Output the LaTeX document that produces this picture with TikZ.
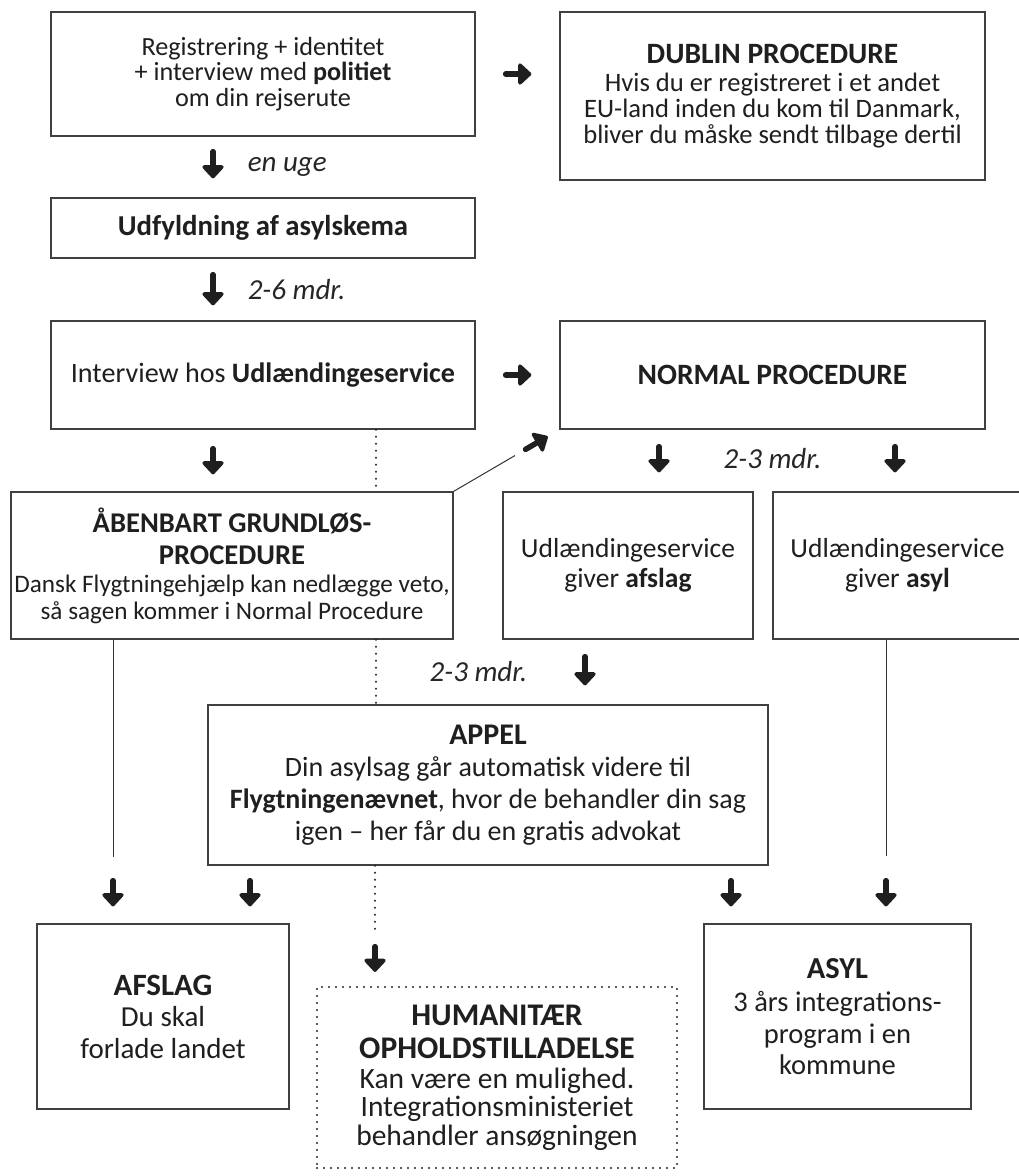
\documentclass[tikz,border=0pt]{standalone}
\usepackage{fontspec}
\setmainfont{Carlito}
\usetikzlibrary{arrows.meta,positioning,calc}
\lineskiplimit=-100pt
\newcommand{\titel}[2]{{\fontsize{#1}{#1}\selectfont\bfseries #2}}

\begin{document}
\begin{tikzpicture}[x=1pt, y=-1pt,
  box/.style={draw=black!75, line width=1.3pt, fill=white, align=center, inner sep=0pt, text=black!88},
  dotbox/.style={box, draw=black!85, line width=2.3pt, dash pattern=on 0pt off 7pt, line cap=round},
  pil/.style={-{Triangle[round, length=14pt, width=25pt]}, line width=5.5pt, line cap=round, color=black!88},
  tynd/.style={line width=1pt, color=black!80},
  prik/.style={line width=2.3pt, dash pattern=on 0pt off 7pt, line cap=round, color=black!85},
  tid/.style={font=\fontsize{29}{29}\selectfont\itshape, text=black!85, inner sep=0pt},
]
\useasboundingbox (0,0) rectangle (1018,1176);

% ─── Top row: registration and Dublin ───
\node[box, font=\fontsize{26.2}{25.5}\selectfont, minimum width=424pt, minimum height=124pt] (reg) at (263,74) {Registrering + identitet\\+ interview med \textbf{politiet}\\om din rejserute};
\node[box, font=\fontsize{26.6}{26}\selectfont, minimum width=425pt, minimum height=168pt] (dublin) at (772.5,96) {\titel{29.5}{DUBLIN PROCEDURE}\\[2pt]Hvis du er registreret i et andet\\EU-land inden du kom til Danmark,\\bliver du måske sendt tilbage dertil};
\draw[pil, shorten <=30pt, shorten >=28pt] (reg.east) -- (reg.east -| dublin.west);

% ─── Asylum form and interview ───
\node[box, font=\fontsize{28.8}{28.8}\selectfont, minimum width=424pt, minimum height=60pt] (udf) at (263,228) {\textbf{Udfyldning af asylskema}};
\node[box, font=\fontsize{28.1}{28.1}\selectfont, minimum width=424pt, minimum height=108pt] (intv) at (263,375) {Interview hos \textbf{Udlændingeservice}};
\node[box, minimum width=425pt, minimum height=108pt] (normal) at (772.5,375) {\titel{29.5}{NORMAL PROCEDURE}};
\draw[pil, shorten <=15pt, shorten >=19pt] ([xshift=-50pt]reg.south) -- ([xshift=-50pt]reg.south |- udf.north) node[midway, right=32pt, tid] {en uge};
\draw[pil, shorten <=16pt, shorten >=15pt] ([xshift=-50pt]udf.south) -- ([xshift=-50pt]udf.south |- intv.north) node[midway, right=32pt, tid] {2-6 mdr.};
\draw[pil, shorten <=30pt, shorten >=28pt] (intv.east) -- (intv.east -| normal.west);

% ─── Decisions ───
\node[box, font=\fontsize{25.2}{27}\selectfont, minimum width=442pt, minimum height=147pt] (aaben) at (232,565.5) {\titel{28.6}{ÅBENBART GRUNDLØS-}\\[5pt]\titel{28.6}{PROCEDURE}\\[1pt]Dansk Flygtningehjælp kan nedlægge veto,\\så sagen kommer i Normal Procedure};
\node[box, font=\fontsize{27.5}{30}\selectfont, minimum width=250pt, minimum height=147pt] (afsl) at (628,565.5) {Udlændingeservice\\giver \textbf{afslag}};
\node[box, font=\fontsize{27.5}{30}\selectfont, minimum width=249pt, minimum height=147pt] (asylgiv) at (897.5,565.5) {Udlændingeservice\\giver \textbf{asyl}};
\draw[pil, shorten <=19pt, shorten >=17pt] ([xshift=-50pt]intv.south) -- ([xshift=-50pt]intv.south |- aaben.north);
\draw[tynd] (aaben.north east) -- ($(aaben.north east)!0.58!(normal.south west)$);
\draw[pil] ($(aaben.north east)!0.68!(normal.south west)$) -- ($(aaben.north east)!0.89!(normal.south west)$);
\draw[pil, shorten <=17pt, shorten >=19pt] ([xshift=-113.5pt]normal.south) -- ([xshift=-113.5pt]normal.south |- afsl.north);
\draw[pil, shorten <=17pt, shorten >=19pt] ([xshift=122.5pt]normal.south) -- ([xshift=122.5pt]normal.south |- asylgiv.north);
\node[tid] (tid3) at ([yshift=-29pt]normal.south) {2-3 mdr.};
\draw[prik] ([xshift=113pt]intv.south) -- ([xshift=113pt]intv.south |- aaben.north);

% ─── Appeal ───
\node[box, font=\fontsize{28}{32}\selectfont, minimum width=560pt, minimum height=160pt] (appel) at (488,785) {\titel{30}{APPEL}\\Din asylsag går automatisk videre til\\\textbf{Flygtningenævnet}, hvor de behandler din sag\\igen -- her får du en gratis advokat};
\draw[pil, shorten <=17pt, shorten >=19pt] ([xshift=-43pt]afsl.south) -- ([xshift=-43pt]afsl.south |- appel.north) node[midway, left=55pt, tid] {2-3 mdr.};
\draw[prik] ([xshift=144pt]aaben.south) -- ([xshift=144pt]aaben.south |- appel.north);

% ─── Outcomes ───
\node[box, font=\fontsize{29}{31.5}\selectfont, minimum width=252pt, minimum height=185pt] (afslag) at (163,1016.5) {\titel{31}{AFSLAG}\\Du skal\\forlade landet};
\node[dotbox, font=\fontsize{29.5}{28.5}\selectfont, minimum width=360pt, minimum height=181pt] (human) at (497,1077.5) {\titel{31.5}{HUMANITÆR}\\[5pt]\titel{31.5}{OPHOLDSTILLADELSE}\\[1pt]Kan være en mulighed.\\Integrationsministeriet\\behandler ansøgningen};
\node[box, font=\fontsize{28.5}{31.5}\selectfont, minimum width=267pt, minimum height=185pt] (asyl) at (837.5,1016.5) {\titel{30.5}{ASYL}\\[2pt]3 års integrations-\\program i en\\kommune};
\draw[tynd, shorten >=66pt] ([xshift=-119pt]aaben.south) -- ([xshift=-119pt]aaben.south |- afslag.north);
\draw[pil, shorten <=241pt, shorten >=17pt] ([xshift=-119pt]aaben.south) -- ([xshift=-119pt]aaben.south |- afslag.north);
\draw[pil, shorten <=15pt, shorten >=17pt] ([xshift=-238pt]appel.south) -- ([xshift=-238pt]appel.south |- afslag.north);
\draw[prik, shorten >=57pt] ([xshift=-113pt]appel.south) -- ([xshift=-113pt]appel.south |- human.north);
\draw[pil, shorten <=81pt, shorten >=14pt] ([xshift=-113pt]appel.south) -- ([xshift=-113pt]appel.south |- human.north);
\draw[pil, shorten <=15pt, shorten >=17pt] ([xshift=243pt]appel.south) -- ([xshift=243pt]appel.south |- asyl.north);
\draw[tynd, shorten >=67pt] ([xshift=-11.5pt]asylgiv.south) -- ([xshift=-11.5pt]asylgiv.south |- asyl.north);
\draw[pil, shorten <=241pt, shorten >=17pt] ([xshift=-11.5pt]asylgiv.south) -- ([xshift=-11.5pt]asylgiv.south |- asyl.north);

\end{tikzpicture}
\end{document}
